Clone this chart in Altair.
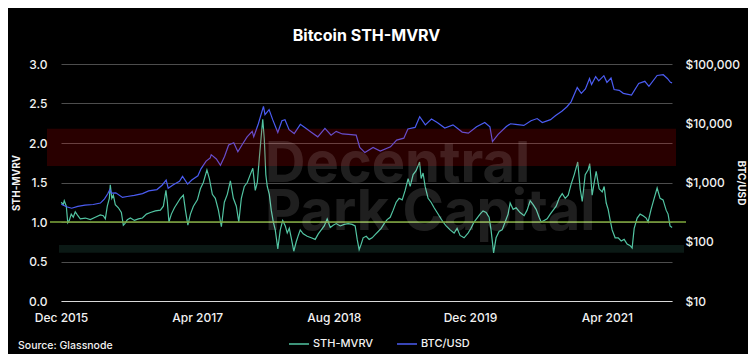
import altair as alt
import pandas as pd

# ---------------- data ----------------
# STH-MVRV (decimal year, value)
mvrv_t = [2015.989, 2016.008, 2016.018, 2016.038, 2016.052, 2016.067, 2016.086, 2016.106, 2016.125, 2016.145,
          2016.174, 2016.223, 2016.272, 2016.320, 2016.369, 2016.398, 2016.418, 2016.437, 2016.457, 2016.466,
          2016.481, 2016.496, 2016.515, 2016.545, 2016.574, 2016.593, 2016.608, 2016.632, 2016.662, 2016.701,
          2016.740, 2016.779, 2016.818, 2016.857, 2016.905, 2016.954, 2016.983, 2017.008, 2017.022, 2017.037,
          2017.061, 2017.091, 2017.120, 2017.149, 2017.178, 2017.198, 2017.222, 2017.247, 2017.276, 2017.315,
          2017.344, 2017.373, 2017.408, 2017.432, 2017.461, 2017.490, 2017.520, 2017.549, 2017.578, 2017.607,
          2017.637, 2017.666, 2017.695, 2017.719, 2017.744, 2017.773, 2017.802, 2017.831, 2017.856, 2017.880,
          2017.900, 2017.919, 2017.939, 2017.953, 2017.968, 2017.983, 2017.997, 2018.017, 2018.036, 2018.056,
          2018.075, 2018.100, 2018.124, 2018.148, 2018.173, 2018.192, 2018.212, 2018.231, 2018.256, 2018.280,
          2018.300, 2018.319, 2018.348, 2018.387, 2018.426, 2018.465, 2018.495, 2018.524, 2018.553, 2018.582,
          2018.612, 2018.641, 2018.670, 2018.709, 2018.748, 2018.787, 2018.826, 2018.855, 2018.875, 2018.894,
          2018.914, 2018.933, 2018.963, 2018.992, 2019.021, 2019.050, 2019.080, 2019.109, 2019.138, 2019.167,
          2019.197, 2019.226, 2019.255, 2019.284, 2019.314, 2019.343, 2019.372, 2019.392, 2019.421, 2019.450,
          2019.484, 2019.499, 2019.518, 2019.538, 2019.567, 2019.596, 2019.626, 2019.655, 2019.684, 2019.713,
          2019.743, 2019.782, 2019.821, 2019.850, 2019.879, 2019.918, 2019.957, 2019.986, 2020.016, 2020.045,
          2020.074, 2020.103, 2020.133, 2020.162, 2020.181, 2020.206, 2020.230, 2020.259, 2020.289, 2020.318,
          2020.347, 2020.367, 2020.396, 2020.425, 2020.464, 2020.503, 2020.532, 2020.562, 2020.591, 2020.620,
          2020.649, 2020.669, 2020.698, 2020.727, 2020.757, 2020.786, 2020.815, 2020.844, 2020.874, 2020.903,
          2020.932, 2020.961, 2020.991, 2021.025, 2021.049, 2021.069, 2021.098, 2021.127, 2021.142, 2021.166,
          2021.186, 2021.205, 2021.234, 2021.264, 2021.283, 2021.303, 2021.322, 2021.342, 2021.361, 2021.390,
          2021.420, 2021.449, 2021.478, 2021.507, 2021.537, 2021.556, 2021.576, 2021.605, 2021.634, 2021.663,
          2021.693, 2021.712, 2021.741, 2021.771, 2021.800, 2021.829, 2021.858, 2021.888, 2021.907, 2021.926,
          2021.946]
mvrv_v = [1.25, 1.22, 1.27, 1.20, 0.99, 1.02, 1.10, 1.06, 1.13, 1.09,
          1.04, 1.05, 1.03, 1.06, 1.09, 1.08, 1.04, 1.20, 1.30, 1.47,
          1.30, 1.34, 1.22, 1.18, 1.12, 0.96, 0.98, 1.03, 1.05, 1.02,
          1.04, 1.05, 1.10, 1.12, 1.14, 1.15, 1.20, 1.40, 1.25, 1.00,
          1.10, 1.18, 1.24, 1.30, 1.34, 1.15, 0.96, 1.10, 1.20, 1.28,
          1.42, 1.50, 1.66, 1.55, 1.35, 1.30, 1.15, 0.94, 1.25, 1.35,
          1.52, 1.30, 1.20, 1.00, 1.30, 1.45, 1.50, 1.60, 1.68, 1.40,
          1.50, 1.80, 2.10, 2.30, 2.05, 1.60, 1.45, 1.35, 1.15, 1.00,
          0.90, 0.66, 0.90, 1.02, 0.95, 0.86, 0.92, 0.80, 0.63, 0.75,
          0.83, 0.90, 0.85, 0.82, 0.80, 0.78, 0.85, 0.90, 0.95, 1.04,
          0.93, 0.96, 0.98, 0.95, 0.97, 0.98, 0.97, 0.95, 0.78, 0.65,
          0.72, 0.80, 0.82, 0.78, 0.80, 0.84, 0.88, 0.92, 0.98, 1.03,
          1.06, 1.15, 1.25, 1.30, 1.28, 1.40, 1.55, 1.45, 1.60, 1.65,
          1.76, 1.55, 1.62, 1.45, 1.30, 1.25, 1.18, 1.12, 1.06, 1.00,
          0.95, 0.90, 0.86, 0.92, 0.83, 0.80, 0.86, 0.92, 1.00, 1.05,
          1.10, 1.14, 1.12, 1.06, 0.90, 0.61, 0.80, 0.88, 0.90, 1.00,
          1.10, 1.24, 1.16, 1.18, 1.12, 1.08, 1.15, 1.27, 1.22, 1.16,
          1.06, 1.00, 1.02, 1.04, 1.10, 1.15, 1.20, 1.30, 1.36, 1.30,
          1.34, 1.48, 1.60, 1.76, 1.42, 1.26, 1.60, 1.66, 1.74, 1.34,
          1.50, 1.64, 1.42, 1.38, 1.45, 1.24, 1.16, 1.02, 0.90, 0.80,
          0.80, 0.76, 0.78, 0.72, 0.70, 0.67, 0.92, 1.05, 1.10, 1.08,
          1.05, 1.00, 1.16, 1.30, 1.43, 1.30, 1.28, 1.15, 1.10, 0.95,
          0.93]

# BTC/USD (decimal year, price)
btc_t = [2015.989, 2016.040, 2016.090, 2016.150, 2016.220, 2016.300, 2016.370, 2016.410, 2016.440, 2016.462,
         2016.480, 2016.520, 2016.585, 2016.630, 2016.700, 2016.780, 2016.840, 2016.920, 2016.970, 2017.010,
         2017.030, 2017.080, 2017.140, 2017.170, 2017.220, 2017.260, 2017.320, 2017.350, 2017.400, 2017.440,
         2017.450, 2017.500, 2017.540, 2017.580, 2017.620, 2017.670, 2017.710, 2017.750, 2017.800, 2017.850,
         2017.865, 2017.910, 2017.960, 2017.975, 2018.015, 2018.050, 2018.100, 2018.140, 2018.170, 2018.210,
         2018.260, 2018.320, 2018.370, 2018.430, 2018.490, 2018.560, 2018.620, 2018.670, 2018.730, 2018.790,
         2018.865, 2018.900, 2018.950, 2019.030, 2019.100, 2019.200, 2019.260, 2019.330, 2019.370, 2019.440,
         2019.485, 2019.540, 2019.600, 2019.660, 2019.730, 2019.810, 2019.900, 2019.960, 2020.040, 2020.120,
         2020.170, 2020.195, 2020.250, 2020.330, 2020.370, 2020.420, 2020.500, 2020.570, 2020.630, 2020.680,
         2020.760, 2020.810, 2020.870, 2020.920, 2020.960, 2021.020, 2021.060, 2021.100, 2021.140, 2021.160,
         2021.200, 2021.230, 2021.280, 2021.310, 2021.350, 2021.380, 2021.430, 2021.470, 2021.550, 2021.620,
         2021.680, 2021.720, 2021.800, 2021.860, 2021.900, 2021.930, 2021.946]
btc_p = [430, 390, 368, 395, 415, 425, 450, 530, 640, 760,
         660, 670, 560, 580, 605, 650, 720, 760, 900, 1100,
         800, 920, 1050, 1270, 940, 1100, 1300, 1700, 2300, 2600,
         2950, 2500, 1950, 2750, 4300, 4700, 3300, 4300, 5900, 7300,
         5900, 9800, 19300, 14000, 17000, 11500, 7000, 11000, 11500, 7800,
         6700, 9600, 8300, 7000, 5900, 8200, 6300, 7300, 6600, 6500,
         6300, 3900, 3200, 3900, 3400, 4000, 5200, 5600, 8000, 8500,
         12900, 9400, 11800, 10200, 8300, 9400, 7100, 6800, 8700, 10300,
         8700, 4900, 6500, 8800, 9800, 9600, 9200, 11000, 12000, 10300,
         11500, 13500, 16000, 19000, 23000, 40000, 32000, 38000, 57000, 45000,
         61000, 52000, 63500, 49000, 58000, 37000, 36000, 32000, 29800, 47000,
         51000, 42000, 64000, 66000, 57000, 49000, 48000]

x_ticks = [(2015, 12, 27), (2017, 4, 25), (2018, 8, 25), (2019, 12, 23), (2021, 4, 24)]
mvrv_ticks = [0, 0.5, 1.0, 1.5, 2.0, 2.5, 3.0]
btc_ticks = [10, 100, 1000, 10000, 100000]
red_zone = (1.71, 2.18)
green_zone = (0.61, 0.71)
ref_level = 1.0
watermark = ["Decentral", "Park Capital"]


def to_date(t):
    y = int(t)
    a = pd.Timestamp(year=y, month=1, day=1)
    b = pd.Timestamp(year=y + 1, month=1, day=1)
    return (a + (b - a) * (t - y)).strftime("%Y-%m-%dT%H:%M:%S")


TEAL = "#52c4a2"
BLUE = "#4b5cf2"
FONT = "Inter"
W, H = 611, 237

df_m = pd.DataFrame({"date": [to_date(t) for t in mvrv_t], "value": mvrv_v, "series": "STH-MVRV"})
df_b = pd.DataFrame({"date": [to_date(t) for t in btc_t], "price": btc_p, "series": "BTC/USD"})
one = pd.DataFrame({"k": [0]})

x_enc = alt.X(
    "date:T",
    scale=alt.Scale(domain=[alt.DateTime(year=2015, month=12, date=27),
                            alt.DateTime(year=2021, month=12, date=12)], nice=False),
    axis=alt.Axis(values=[alt.DateTime(year=y, month=m, date=d) for y, m, d in x_ticks],
                  format="%b %Y", title=None, grid=False, ticks=False, tickSize=0,
                  domain=True, domainColor="#d9d9d9", domainWidth=1,
                  labelFlush=False, labelOverlap=False,
                  labelPadding=11, labelColor="#f2f2f2", labelFont=FONT,
                  labelFontSize=12, labelFontWeight=500),
)

color = alt.Color(
    "series:N",
    scale=alt.Scale(domain=["STH-MVRV", "BTC/USD"], range=[TEAL, BLUE]),
    legend=alt.Legend(orient="none", legendX=227, legendY=269, direction="horizontal",
                      title=None, symbolType="stroke", symbolSize=400, symbolStrokeWidth=1.5,
                      labelColor="#f2f2f2", labelFont=FONT, labelFontSize=11, labelFontWeight=500,
                      columnPadding=20, labelOffset=3, padding=0),
)

mvrv_line = alt.Chart(df_m).mark_line(strokeWidth=1.2).encode(
    x=x_enc,
    y=alt.Y("value:Q",
            scale=alt.Scale(domain=[0, 3], nice=False),
            axis=alt.Axis(orient="left", values=mvrv_ticks, format=".1f", title="STH-MVRV",
                          grid=True, gridColor="#4d4d4d", gridWidth=1, domain=False,
                          ticks=False, tickSize=0, labelPadding=14,
                          labelColor="#f2f2f2", labelFont=FONT, labelFontSize=12, labelFontWeight=500,
                          titleX=-45, titleY=H / 2, titleAngle=270, titleAlign="center",
                          titleBaseline="middle", titleColor="#f2f2f2", titleFont=FONT,
                          titleFontSize=10, titleFontWeight="bold")),
    color=color,
)

btc_line = alt.Chart(df_b).mark_line(strokeWidth=1.2).encode(
    x=x_enc,
    y=alt.Y("price:Q",
            scale=alt.Scale(type="log", domain=[10, 100000], nice=False),
            axis=alt.Axis(orient="right", values=btc_ticks, format="$,.0f", title="BTC/USD",
                          grid=False, domain=False, ticks=False, tickSize=0, labelPadding=13,
                          labelColor="#f2f2f2", labelFont=FONT, labelFontSize=12, labelFontWeight=500,
                          titleX=68, titleY=H / 2, titleAngle=90, titleAlign="center",
                          titleBaseline="middle", titleColor="#f2f2f2", titleFont=FONT,
                          titleFontSize=10, titleFontWeight="bold")),
    color=color,
)

yband = alt.Scale(domain=[0, 3], nice=False)

red = alt.Chart(one).mark_rect(color="#ff0000", opacity=0.16).encode(
    y=alt.Y(datum=red_zone[0], scale=yband, axis=None), y2=alt.Y2(datum=red_zone[1]),
    x=alt.value(-14), x2=alt.value(615))
green = alt.Chart(one).mark_rect(color=TEAL, opacity=0.13).encode(
    y=alt.Y(datum=green_zone[0], scale=yband, axis=None), y2=alt.Y2(datum=green_zone[1]),
    x=alt.value(-2), x2=alt.value(623))
level = alt.Chart(one).mark_rule(color="#7fa83c", strokeWidth=1.5).encode(
    y=alt.Y(datum=ref_level, scale=yband, axis=None), x=alt.value(-11), x2=alt.value(625))
wm = alt.Chart(one).mark_text(text=watermark, align="left", baseline="alphabetic", font=FONT,
                              fontSize=56, fontWeight="bold", lineHeight=48,
                              color="#ffffff", opacity=0.12
                              ).encode(x=alt.value(204), y=alt.value(118))
source = alt.Chart(one).mark_text(text="Source: Glassnode", align="left", baseline="middle", font=FONT,
                                  fontSize=10.5, fontWeight=500, color="#f2f2f2"
                                  ).encode(x=alt.value(-43), y=alt.value(282))

overlay = alt.layer(red, green, level, wm, source)

chart = alt.layer(mvrv_line, btc_line, overlay).resolve_scale(y="independent").properties(
    width=W, height=H,
    title=alt.TitleParams("Bitcoin STH-MVRV", color="#ffffff", font=FONT, fontSize=16,
                          fontWeight="bold", anchor="middle", offset=14),
    padding={"left": 53, "top": 56, "right": 76, "bottom": 53},
    autosize="none",
    background="#000000",
).configure_view(stroke=None)

chart.save("out.html", embed_options={"renderer": "svg", "actions": False})
